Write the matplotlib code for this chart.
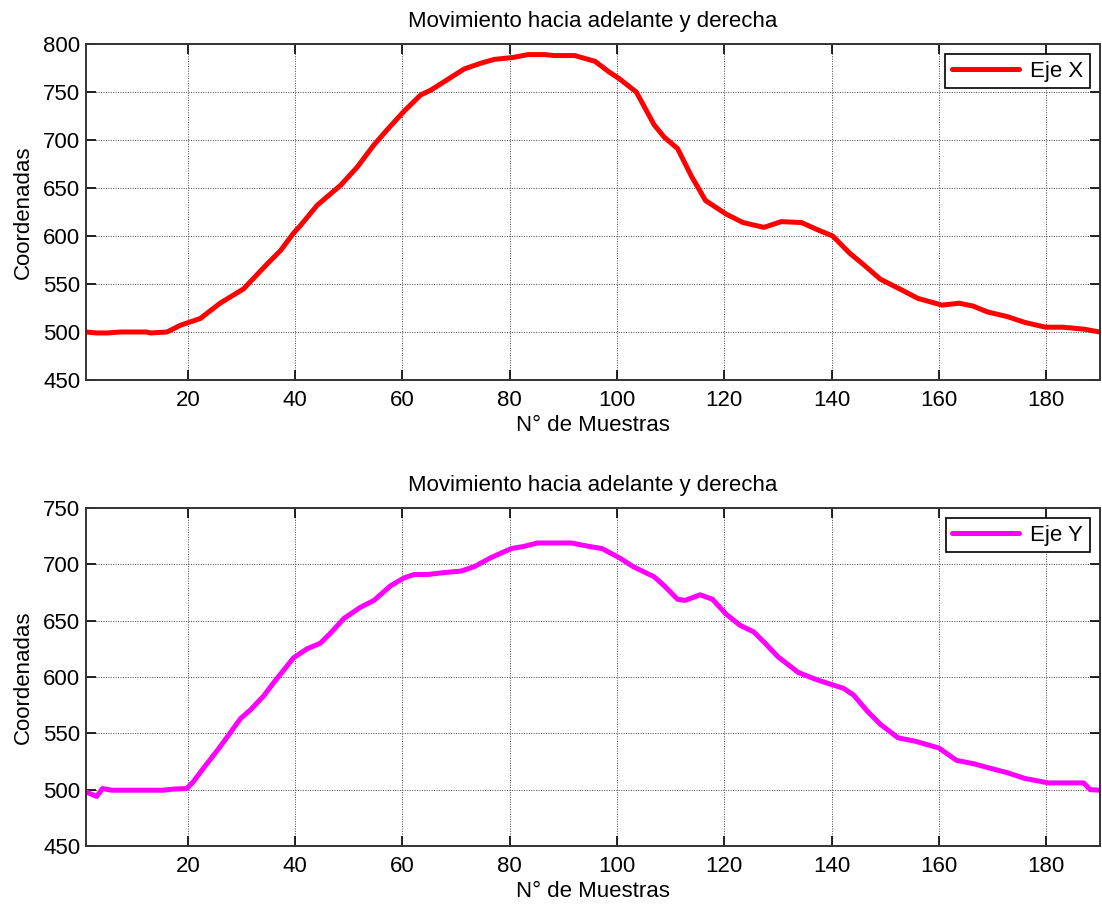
import matplotlib
matplotlib.use("Agg")
from matplotlib import pyplot as plt

plt.rcParams['font.family'] = ['Liberation Sans', 'DejaVu Sans']

# muestras (x = nro de muestra, valor = coordenada)
x_eje_x = [1, 3, 5, 7.4, 12.3, 13, 16.1, 18.6, 22.3, 26, 30.4, 34.8, 37.3, 39.7, 41,
           44.1, 48.5, 51.6, 54.7, 57.2, 60.3, 63.4, 65.3, 68.4, 71.5, 74.6, 77.1,
           80.6, 83.4, 86.5, 88.3, 92.1, 95.9, 98.5, 100.4, 103.6, 106.9, 108.8,
           111.3, 113.9, 116.5, 120.3, 123.5, 127.4, 130.6, 134.4, 137.6, 140.2,
           143.4, 146, 149.1, 153, 156.1, 160.6, 163.8, 166.4, 169, 172.8, 176,
           179.9, 183.1, 187, 190]
y_eje_x = [500, 499, 499, 500, 500, 499, 500, 507, 514, 530, 545, 571, 585, 603, 611,
           632, 653, 672, 695, 711, 730, 747, 752, 763, 774, 780, 784,
           786, 789, 789, 788, 788, 782, 771, 764, 750, 716, 703,
           691, 662, 637, 623, 614, 609, 615, 614, 606, 600,
           582, 570, 555, 544, 535, 528, 530, 527, 521, 516, 510,
           505, 505, 503, 500]

x_eje_y = [1, 3, 4.1, 5.8, 15.4, 17.3, 19.8, 21, 22.9, 26, 29.8, 31.7, 34.1, 36,
           39.7, 42.2, 44.7, 46.6, 49.1, 52.2, 54.7, 57.8, 60.3, 62.2, 64.7, 68.4,
           70.9, 73.4, 76.5, 80.3, 82.7, 85.2, 91.5, 94.7, 97.2, 100.4, 103, 106.9,
           108.8, 111.3, 112.7, 115.5, 117.8, 120.3, 122.9, 125.5, 127.4, 130,
           131.9, 133.8, 137, 140.2, 142.2, 144.1, 146.6, 149.1, 152.4, 155.6, 160,
           163.3, 166.5, 169.6, 172.8, 176, 180.4, 187, 188.2, 190]
y_eje_y = [498, 494, 501, 499.5, 499.5, 500.5, 501, 507, 519, 538, 563, 571, 583, 595,
           617, 625, 630, 639, 652, 662, 668, 681, 688, 691, 691, 693,
           694, 698, 706, 714, 716, 719, 719, 716, 714, 706, 698, 689,
           681, 669, 668, 673, 669, 656, 646, 640, 631, 618,
           611, 604, 598, 593, 590, 584, 570, 558, 546, 543, 537,
           526, 523, 519, 515, 510, 506, 506, 500, 499.5]

titulo = "Movimiento hacia adelante y derecha"
xticks = [20, 40, 60, 80, 100, 120, 140, 160, 180]

fig = plt.figure(figsize=(11.02, 9.08), dpi=100)
ax1 = fig.add_axes([0.078, 0.5815, 0.92, 0.370])
ax2 = fig.add_axes([0.078, 0.0683, 0.92, 0.3722])

paneles = [
    (ax1, x_eje_x, y_eje_x, "#ff0000", "Eje X", (450, 800)),
    (ax2, x_eje_y, y_eje_y, "#ff00ff", "Eje Y", (450, 750)),
]

for ax, xs, ys, color, nombre, ylim in paneles:
    ax.plot(xs, ys, color=color, lw=3.6, label=nombre,
            solid_joinstyle="round", solid_capstyle="round")
    ax.set_xlim(1, 190)
    ax.set_ylim(*ylim)
    ax.set_xticks(xticks)
    ax.set_yticks(range(ylim[0], ylim[1] + 1, 50))
    ax.grid(True, color="#444444", linestyle=(0, (1, 1.5)), linewidth=0.7)
    ax.tick_params(direction="in", top=True, right=True, labelsize=16, length=7,
                   width=1.2)
    ax.tick_params(axis="x", pad=7)
    ax.tick_params(axis="y", pad=4)
    for s in ax.spines.values():
        s.set_linewidth(1.4)
        s.set_color("#333333")
    ax.set_title(titulo, fontsize=16, pad=12)
    ax.set_xlabel("N° de Muestras", fontsize=16, labelpad=3)
    ax.set_ylabel("Coordenadas", fontsize=16, labelpad=7)
    leg = ax.legend(loc="upper right", fontsize=16, fancybox=False, framealpha=1,
                    edgecolor="black", handlelength=3.0, handletextpad=0.5,
                    borderpad=0.3, borderaxespad=0.45)
    leg.get_frame().set_linewidth(1.2)

fig.savefig("out.png", dpi=100)
